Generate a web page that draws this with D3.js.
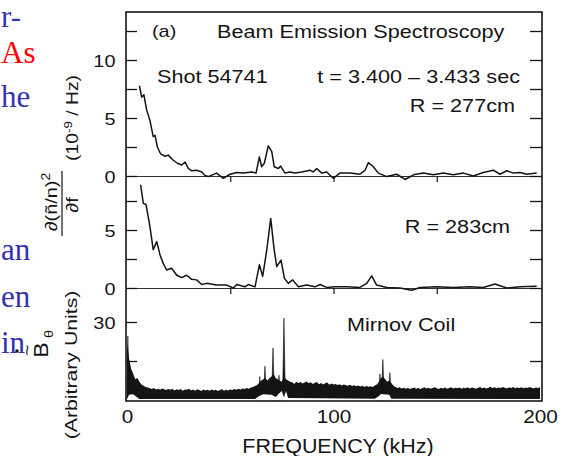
<!DOCTYPE html>
<html><head><meta charset="utf-8">
<script src="https://cdn.jsdelivr.net/npm/d3@7"></script>
<style>body{margin:0;background:#fff;} svg{display:block;}</style>
</head><body>
<script>
// ---------- data ----------
// Panel 1: BES, R = 277 cm  (frequency kHz, d(n/n)^2/df in 1e-9/Hz)
const bes277Freq = [6.0,7.1,8.2,9.5,11.1,12.7,13.6,14.7,16.3,18.4,20.0,22.1,24.4,26.5,28.1,29.7,31.3,33.7,36.2,37.8,39.4,43.4,46.6,49.9,53.1,56.3,60.4,62.5,64.1,65.2,66.5,68.4,70.1,71.3,73.3,74.4,76.5,78.9,81.4,84.6,88.6,90.2,91.9,94.3,96.7,99.9,103.1,108.0,112.8,115.3,116.9,119.3,121.7,125.8,130.6,134.7,138.7,143.5,148.4,153.2,158.0,162.9,167.7,172.5,177.4,180.6,183.9,187.1,190.3,193.6,198.4];
const bes277Val  = [7.8,6.8,7.0,5.7,4.8,3.4,3.5,2.5,1.9,1.7,1.8,1.4,1.1,0.95,1.2,0.65,0.45,0.5,0.35,0.05,-0.05,0.25,-0.2,0.15,0.3,0.25,0.35,0.25,1.65,0.8,1.1,2.6,2.1,0.8,0.65,0.85,0.25,0.35,0.25,0.35,0.5,0.35,0.65,0.25,0.35,-0.2,0.25,0.25,0.15,0.5,1.15,0.8,0.25,-0.05,0.15,-0.3,0.1,0.25,0.1,0.25,0.1,0.25,0.0,0.3,0.5,0.15,0.45,0.25,0.3,0.15,0.25];
// Panel 2: BES, R = 283 cm
const bes283Freq = [6.6,7.9,9.2,11.1,12.7,14.4,16.0,17.6,19.2,21.6,24.1,26.5,28.9,31.3,33.7,36.2,38.6,43.4,48.3,51.5,53.1,57.1,58.7,62.0,64.1,65.7,67.7,69.6,71.2,72.5,74.6,76.2,78.1,80.2,83.0,87.0,91.0,93.5,96.7,100.7,106.4,112.8,116.1,118.5,120.9,125.8,132.2,137.9,141.9,150.0,158.0,166.1,172.5,178.2,183.9,190.3,198.4];
const bes283Val  = [8.9,7.3,7.2,5.3,3.3,4.0,2.85,2.1,1.55,1.7,1.1,0.9,1.1,0.75,0.7,0.3,0.4,0.25,0.25,0.0,0.3,0.1,0.3,0.1,2.0,1.0,3.3,6.0,3.4,1.85,2.4,0.85,0.4,0.7,0.1,0.25,0.1,0.3,0.05,0.1,0.1,0.05,0.4,1.05,0.25,0.05,0.0,-0.2,0.05,0.1,0.05,0.1,0.05,0.35,0.0,0.1,0.15];
// Panel 3: Mirnov coil, upper edge of the noisy band, one value per kHz (0..200)
const mirnovStepKHz = 1;
const mirnovHigh = [22,16,12,10,8,8.5,7,6,5.5,5,4.8,
 4.5,4.2,4.6,4.0,4.3,3.9,4.4,4.1,3.8,4.2,
 3.9,4.3,3.7,4.1,3.8,4.2,3.6,4.0,3.9,4.3,
 3.7,4.0,3.6,4.1,3.8,3.5,4.0,3.7,3.9,3.6,
 4.0,3.7,3.9,3.5,3.8,4.1,3.6,3.9,3.7,4.0,
 3.8,4.2,3.9,4.3,4.0,4.4,4.2,4.6,4.3,4.8,
 5.0,5.4,5.8,6.5,7.5,8,8.5,7.5,8.5,9,10,8.5,8,7.5,7,9,8,7.5,7,
 6.8,6.2,7.0,6.5,6.9,6.3,6.7,7.1,6.4,6.8,6.2,
 6.6,6.9,6.1,6.5,6.0,6.4,6.7,5.9,6.3,6.0,
 6.2,5.8,6.1,5.6,6.0,5.7,5.5,5.9,5.4,5.7,
 5.3,5.6,5.2,5.5,5.0,5.4,5.1,5.3,5.0,5.6,
 6,7,8.5,9,8,7,7.5,6.5,5.5,
 5.0,4.6,4.9,4.4,4.7,4.3,4.6,4.2,4.5,4.8,4.3,
 4.6,4.2,4.5,4.9,4.4,4.7,4.3,4.6,4.9,4.5,
 4.2,4.7,4.4,4.8,4.3,4.6,4.9,4.4,4.7,4.5,
 4.8,4.3,4.7,4.5,4.9,4.4,4.8,4.6,4.3,4.7,
 5.0,4.5,4.8,4.4,4.7,5.1,4.6,4.9,4.5,4.8,
 4.6,5.0,4.7,4.4,4.9,4.6,5.0,4.5,4.8,4.6,
 4.9,4.5,4.8,4.6,5.0,4.7,4.4,4.8,4.6,4.9];
// narrow Mirnov spectral peaks
const mirnovPeakFreq = [0.4,64.3,66.8,70.7,73.6,76.0,122.5,123.9,127.3];
const mirnovPeakVal  = [24.6,9,13,20,9.5,31.5,10,15.6,10.5];
// lower edge of the Mirnov band (white gaps under the peaks)
const mirnovLowFreq = [0,1,3,5,6,62,64,66,70,72,74,75,76,77,78,120,122,123,127,128,200];
const mirnovLowVal  = [0.3,2.0,2.2,1.0,0.4,0.4,1.5,2.2,2.0,1.2,2.8,3.5,1.0,3.5,0.8,0.5,1.5,2.3,2.0,0.5,0.4];

const xTickLabels = [0,100,200];
const xMinorTicks = [50,100,150];
const p1Ticks = [0,2.5,5,7.5,10,12.5], p1Labels = [0,5,10];
const p2Ticks = [0,2.5,5,7.5], p2Labels = [0,5];
const p3Ticks = [15,30], p3Labels = [0,30];

// ---------- drawing ----------
const W = 570, H = 456;
const SANS = "'Liberation Sans', Arial, Helvetica, sans-serif";
const SERIF = "'Liberation Serif', 'Times New Roman', serif";
const INK = "#141414";
const SX = 1.17; // horizontal stretch of the scanned lettering

const svg = d3.select("body").append("svg").attr("width", W).attr("height", H);

const L = 126, R = 542, T = 12, B = 401;
const x = d3.scaleLinear().domain([0,200]).range([127,540]);
const y1 = d3.scaleLinear().domain([0,10]).range([176,60]);
const y2 = d3.scaleLinear().domain([0,5]).range([288,230]);
const y3 = d3.scaleLinear().domain([0,30]).range([400,322]);

// page text fragments at left (beamer slide)
const pageLines = [
  {t:"r-", y:27, c:"#3333b2"},
  {t:"As", y:63, c:"#ff0000"},
  {t:"he", y:107, c:"#3333b2"},
  {t:"an", y:260, c:"#3333b2"},
  {t:"en", y:307, c:"#3333b2"},
  {t:"in", y:353, c:"#3333b2"}
];
svg.append("g").selectAll("text").data(pageLines).join("text")
  .attr("x", 1).attr("y", d => d.y).attr("text-anchor","start")
  .attr("font-family", SERIF).attr("font-size", 31).attr("fill", d => d.c)
  .text(d => d.t);

function stext(px, py, str, size, anchor, stretch) {
  const g = svg.append("g").attr("transform", `translate(${px},${py}) scale(${stretch||SX},1)`);
  return g.append("text").attr("text-anchor", anchor||"start")
    .attr("font-family", SANS).attr("font-size", size).attr("fill", INK).text(str);
}
function rtext(px, py, size, stretch) {
  const g = svg.append("g").attr("transform", `translate(${px},${py}) rotate(-90) scale(${stretch||SX},1)`);
  return g.append("text").attr("text-anchor","middle")
    .attr("font-family", SANS).attr("font-size", size).attr("fill", INK);
}

// Mirnov band
const mirnov = mirnovHigh.map((v,i) => ({f: i*mirnovStepKHz, v}));
svg.append("path").datum(mirnov)
  .attr("d", d3.area().x(d => x(d.f)).y0(y3(0)).y1(d => y3(d.v)))
  .attr("fill", INK);
const peakArea = d3.area().x(d => x(d.f)).y0(y3(0)).y1(d => y3(d.v));
svg.append("g").selectAll("path").data(mirnovPeakFreq.map((f,i) => ({f, v: mirnovPeakVal[i]}))).join("path")
  .attr("d", d => peakArea([{f: Math.max(0, d.f-0.7), v: 0}, {f: d.f, v: d.v}, {f: d.f+0.7, v: 0}]))
  .attr("fill", INK).attr("stroke", INK).attr("stroke-width", 0.6);
svg.append("path").datum(mirnovLowFreq.map((f,i) => ({f, v: mirnovLowVal[i]})))
  .attr("d", d3.area().x(d => x(d.f)).y0(y3(0)+0.5).y1(d => y3(d.v)))
  .attr("fill", "#fff");

// baselines with minor x ticks
function baseAxis(yPos) {
  const g = svg.append("g").attr("transform", `translate(0,${yPos})`)
    .call(d3.axisBottom(x).tickValues(xMinorTicks).tickSizeInner(6).tickSizeOuter(0).tickFormat(""));
  g.select(".domain").attr("stroke", "#333").attr("stroke-width", 1.1)
    .attr("d", `M${x(1.5)},0.5H${x(200)}`);
  g.selectAll(".tick line").attr("stroke", INK).attr("stroke-width", 1.2);
}
baseAxis(y1(0));
baseAxis(y2(0));

// BES traces
const line = (ys) => d3.line().x(d => x(d.f)).y(d => ys(d.v));
svg.append("path").datum(bes277Freq.map((f,i) => ({f, v: bes277Val[i]})))
  .attr("d", line(y1)).attr("fill","none").attr("stroke", INK).attr("stroke-width", 1.5).attr("stroke-linejoin","round");
svg.append("path").datum(bes283Freq.map((f,i) => ({f, v: bes283Val[i]})))
  .attr("d", line(y2)).attr("fill","none").attr("stroke", INK).attr("stroke-width", 1.5).attr("stroke-linejoin","round");

// Y axes (left with labels, right ticks only)
function yAxes(scale, ticks, labels) {
  const gl = svg.append("g").attr("transform", `translate(${L},0)`)
    .call(d3.axisLeft(scale).tickValues(ticks).tickSizeInner(-11).tickSizeOuter(0).tickPadding(9)
      .tickFormat(d => labels.includes(d) ? d : ""));
  gl.select(".domain").remove();
  gl.selectAll(".tick line").attr("stroke", INK).attr("stroke-width", 1.3);
  gl.selectAll(".tick text").attr("font-family", SANS).attr("font-size", 17).attr("fill", INK)
    .attr("transform", `scale(${SX},1)`).attr("dy", "0.4em");
  const gr = svg.append("g").attr("transform", `translate(${R},0)`)
    .call(d3.axisRight(scale).tickValues(ticks).tickSizeInner(-12).tickSizeOuter(0).tickFormat(""));
  gr.select(".domain").remove();
  gr.selectAll(".tick line").attr("stroke", INK).attr("stroke-width", 1.3);
}
yAxes(y1, p1Ticks, p1Labels);
yAxes(y2, p2Ticks, p2Labels);
yAxes(y3, p3Ticks, p3Labels);

// bottom axis labels
const gx = svg.append("g").attr("transform", `translate(0,${B})`)
  .call(d3.axisBottom(x).tickValues(xTickLabels).tickSize(0).tickPadding(9));
gx.select(".domain").remove();
gx.selectAll(".tick text").attr("font-family", SANS).attr("font-size", 18.5).attr("fill", INK)
  .attr("transform", `scale(1.12,1)`);

// frame
svg.append("rect").attr("x", L).attr("y", T).attr("width", R-L).attr("height", B-T)
  .attr("fill","none").attr("stroke", INK).attr("stroke-width", 1.6);

// annotations
stext(152, 37, "(a)", 17);
stext(217, 38, "Beam Emission Spectroscopy", 18.5);
stext(157, 83, "Shot 54741", 18.5);
stext(520, 83, "t = 3.400 \u2013 3.433 sec", 18.5, "end");
stext(515, 112, "R = 277cm", 18.5, "end");
stext(510, 233, "R = 283cm", 18.5, "end");
stext(347, 331, "Mirnov Coil", 18.5);
stext(338, 453, "FREQUENCY (kHz)", 19.5, "middle", 1.1);

// y-axis title for BES panels
const num = rtext(57, 202, 17);
num.append("tspan").text("\u2202(\u00f1/n)");
num.append("tspan").attr("font-size", 12).attr("dy", -7).text("2");
svg.append("line").attr("x1", 62).attr("x2", 62).attr("y1", 171).attr("y2", 236)
  .attr("stroke", INK).attr("stroke-width", 1.2);
rtext(78, 205, 17).text("\u2202f");
const units = rtext(78, 118, 16.5);
units.append("tspan").text("(10");
units.append("tspan").attr("font-size", 11.5).attr("dy", -6).text("-9");
units.append("tspan").attr("dy", 6).text(" / Hz)");

// y-axis title for Mirnov panel
rtext(77, 365, 17, 1.25).text("(Arbitrary Units)");
rtext(48, 350, 21, 1.1).text("B");
rtext(53, 334, 13, 1.1).text("\u03b8");
rtext(33, 350, 17, 1.1).text("~");
svg.append("circle").attr("cx", 17).attr("cy", 351).attr("r", 1.8).attr("fill", INK);
</script>
</body></html>
